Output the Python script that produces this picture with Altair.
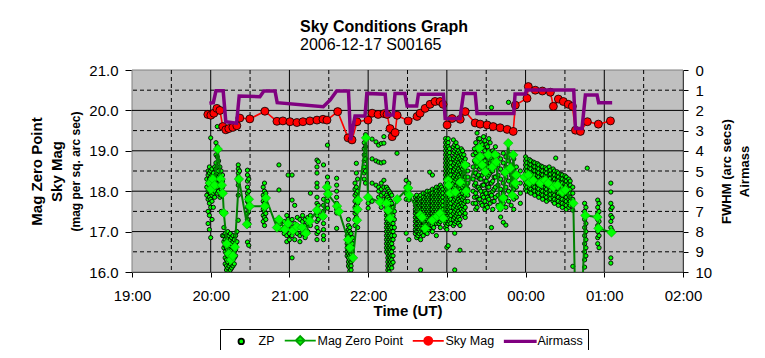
import altair as alt
import pandas as pd

FONT = "Liberation Sans"
BASE = pd.Timestamp("2006-12-17")


def when(s):
    """'HH:MM' (minutes may be fractional) -> timestamp; hours before noon are the next day."""
    h, m = s.split(":")
    h = int(h)
    if h < 12:
        h += 24
    return BASE + pd.Timedelta(hours=h) + pd.Timedelta(minutes=float(m))


# ---------------- data ----------------
# Airmass (right axis, 0 at top)
AIR_TIME = ["19:59", "20:02", "20:04", "20:09.5", "20:11.5", "20:19.7", "20:21.7", "20:37.5",
            "20:40.5", "20:49", "20:50.7", "21:25.8", "21:31", "21:36", "21:45", "21:46.7",
            "21:50", "21:57.6", "21:59", "22:13", "22:14.4", "22:19", "22:20.5", "22:28",
            "22:29.7", "22:37", "22:38.3", "22:57.4", "22:58.7", "23:10", "23:12.7", "23:21.6",
            "23:23", "23:51", "23:52", "00:00", "00:00.5", "00:36.7", "00:38", "00:43",
            "00:45.6", "00:54.5", "00:55.7", "01:06"]
AIR_VAL = [1.65, 1.62, 1.03, 1.03, 2.56, 2.64, 1.29, 1.32,
           1.04, 1.04, 1.62, 1.82, 1.49, 1.04, 1.04, 3.47,
           2.28, 2.28, 1.16, 1.2, 2.23, 2.23, 1.16, 1.16,
           1.78, 1.78, 1.2, 1.2, 2.4, 2.4, 1.16, 1.16,
           2.15, 2.15, 1.19, 1.19, 0.99, 0.99, 2.89, 2.89,
           1.24, 1.24, 1.62, 1.62]

# Sky Mag (left axis)
SKY_TIME = ["19:57.8", "20:00.1", "20:02.4", "20:04.7", "20:07", "20:09.2", "20:11.5", "20:13.8",
            "20:16.9", "20:19.9", "20:22.2", "20:29.8", "20:41.3", "20:50.5", "20:55", "21:00.4",
            "21:05.7", "21:10.3", "21:15.6", "21:21", "21:25.6", "21:28.6", "21:36.8", "21:44.7",
            "21:47.7", "21:51.5", "21:59.9", "22:03", "22:07.6", "22:12.2", "22:14.4", "22:16.7",
            "22:18.3", "22:20.6", "22:22.1", "22:30.5", "22:37.3", "22:39.6", "22:43.4", "22:47.2",
            "22:51", "22:54.8", "22:57.1", "23:00.2", "23:04", "23:10.2", "23:14", "23:21.6",
            "23:25.4", "23:30.7", "23:35.3", "23:40.6", "23:46", "23:50.6", "23:52.2", "00:01.1",
            "00:02.1", "00:07.4", "00:12.8", "00:18.9", "00:21.2", "00:25", "00:28.8", "00:32.6",
            "00:35.7", "00:38", "00:41.8", "00:47.1", "00:55.5", "01:04.7"]
SKY_MAG = [19.9, 19.88, 19.93, 20.05, 20.0, 19.6, 19.52, 19.55,
           19.58, 19.62, 19.81, 19.79, 19.98, 19.73, 19.74, 19.72,
           19.7, 19.72, 19.74, 19.76, 19.78, 19.76, 19.97, 19.32,
           19.27, 19.72, 19.76, 19.93, 19.9, 19.92, 19.9, 19.55,
           19.35, 19.45, 19.88, 19.74, 19.85, 19.93, 20.05, 20.15,
           20.22, 20.22, 20.15, 19.64, 19.8, 19.78, 19.97, 19.69,
           19.66, 19.64, 19.6, 19.57, 19.53, 19.48, 20.13, 20.3,
           20.59, 20.5, 20.48, 20.45, 20.1, 20.28, 20.22, 20.15,
           20.1, 19.51, 19.48, 19.72, 19.66, 19.74]

# Mag Zero Point (diamonds + line)
MZP_TIME = ["19:59.3", "20:00.1", "20:01.6", "20:03.1", "20:05.4", "20:07.7", "20:08.5", "20:09.2",
            "20:10", "20:12.3", "20:13.8", "20:15.3", "20:16.9", "20:18.4", "20:21.5", "20:27.6",
            "20:29.1", "20:29.8", "20:41.3", "20:42.1", "20:50.5", "20:52", "20:56.6", "20:58.9",
            "21:02.7", "21:05.7", "21:09.5", "21:12.6", "21:15.6", "21:21", "21:25.6", "21:28.6",
            "21:29.4", "21:36.3", "21:37.8", "21:44.7", "21:46.2", "21:48.5", "21:51.5", "21:51.9",
            "21:52.3", "21:58.4", "21:59.9", "22:09.1", "22:14", "22:15.2", "22:16.7", "22:22.1",
            "22:30.5", "22:31.3", "22:39.7", "22:41.2", "22:43.5", "22:48.8", "22:52.6", "22:54.9",
            "22:57.2", "23:01", "23:01.4", "23:02.5", "23:06.4", "23:10.2", "23:14", "23:14.7",
            "23:23.1", "23:24.7", "23:25.4", "23:26.9", "23:29.3", "23:31.5", "23:34.6", "23:36.9",
            "23:37.6", "23:40.7", "23:43", "23:44.5", "23:46.8", "23:48.3", "23:49.9", "23:50.6",
            "23:52.1", "23:52.9", "23:59", "00:02.1", "00:02.9", "00:05.9", "00:11.2", "00:15",
            "00:17.3", "00:21.2", "00:24.2", "00:28", "00:30.3", "00:36.4", "00:38", "00:42.5",
            "00:45.6", "00:54.8", "00:55.6", "01:05.5"]
MZP_MAG = [18.2, 18.05, 18.3, 18.15, 19.04, 18.3, 18.15, 17.95,
           17.46, 16.7, 16.45, 16.3, 16.4, 16.62, 18.3, 17.18,
           17.8, 17.63, 17.63, 17.83, 17.1, 17.3, 17.06, 17.2,
           17.03, 17.12, 17.1, 16.96, 17.26, 17.53, 17.38, 18.1,
           17.93, 17.63, 17.5, 16.8, 16.6, 16.35, 17.28, 17.55,
           17.78, 19.32, 17.85, 17.73, 17.7, 17.53, 17.33, 17.8,
           18.08, 17.9, 17.41, 17.35, 17.08, 17.28, 17.38, 17.45,
           17.33, 18.27, 18.15, 17.95, 17.98, 18.22, 18.65, 18.0,
           18.77, 19.07, 18.85, 18.65, 18.48, 18.9, 18.6, 18.9,
           18.72, 17.6, 17.83, 18.47, 19.19, 18.57, 17.9, 18.9,
           18.2, 18.4, 18.35, 18.4, 18.22, 18.27, 18.2, 18.27,
           18.2, 18.1, 18.15, 17.98, 18.03, 17.7, 15.0, 15.0,
           17.4, 17.36, 17.08, 16.98]

# ZP individual measurements: (time, [mags])
ZP_COLS = [
    ("19:57", [18.3, 18.1, 17.9]),
    ("19:58", [18.5, 18.4, 18.2, 18.0, 17.8, 17.5, 17.2]),
    ("19:59", [18.6, 18.45, 18.3, 18.15, 18.0, 17.85, 17.7, 17.4, 17.05]),
    ("20:00", [19.32, 18.5, 18.35, 18.2, 18.1, 17.95, 17.8, 17.6, 16.85]),
    ("20:01", [18.55, 18.4, 18.25, 18.05, 17.9, 17.75, 17.3]),
    ("20:02", [18.45, 18.3, 18.15, 17.95, 17.6]),
    ("20:03", [18.6, 18.2, 18.0, 17.85]),
    ("20:04", [19.2, 18.9, 18.7, 18.55, 18.4, 18.25]),
    ("20:05", [19.6, 19.1, 18.85, 18.6, 18.45, 18.3, 18.1, 17.95]),
    ("20:06", [18.75, 18.5, 18.35, 18.2, 18.0]),
    ("20:07", [18.6, 18.4, 18.2, 17.85]),
    ("20:08", [18.5, 18.35, 18.2, 18.05, 17.9, 17.5]),
    ("20:09", [18.4, 18.25, 18.1, 17.95, 17.45, 16.9]),
    ("20:10", [17.1, 16.9, 16.75, 16.6]),
    ("20:11", [16.95, 16.8, 16.65, 16.5, 16.35, 16.2]),
    ("20:12", [16.9, 16.75, 16.6, 16.45, 16.3, 16.15, 16.05]),
    ("20:13", [17.0, 16.85, 16.7, 16.55, 16.4, 16.25, 16.1]),
    ("20:14", [16.9, 16.75, 16.6, 16.45, 16.3, 16.15, 16.02]),
    ("20:15", [16.95, 16.8, 16.65, 16.5, 16.35, 16.2, 16.05]),
    ("20:16", [16.85, 16.7, 16.55, 16.4, 16.25, 16.1]),
    ("20:17", [16.9, 16.75, 16.6, 16.45, 16.3, 16.15]),
    ("20:18", [16.8, 16.65, 16.5, 16.35, 16.2]),
    ("20:19", [16.9, 16.7, 16.55, 16.4]),
    ("20:20", [17.0, 16.75]),
    ("20:21", [18.65, 18.55, 18.45, 18.35, 18.25, 18.15, 17.9, 17.28]),
    ("20:22", [18.5, 18.3]),
    ("20:28", [18.52, 18.4, 18.25, 18.1, 17.95, 17.85, 17.75, 17.6, 17.45, 17.3, 17.15, 16.74]),
    ("20:29", [18.3, 18.0, 17.7, 17.5, 17.2, 16.66]),
    ("20:40", [18.1, 17.9, 17.75, 17.55, 17.4, 17.25]),
    ("20:41", [18.2, 18.0, 17.85, 17.7, 17.5, 17.35, 17.15]),
    ("20:42", [17.95, 17.8, 17.6, 17.45, 17.3]),
    ("20:50", [17.28, 17.1]),
    ("20:52", [18.65, 18.03]),
    ("20:53", [17.2, 17.05]),
    ("20:56", [17.25, 17.1, 16.95]),
    ("20:58", [17.4, 17.15, 16.9, 16.75]),
    ("20:59", [18.4, 17.3, 17.05]),
    ("21:00", [17.2, 16.95, 16.8]),
    ("21:02", [18.4, 17.78, 17.3, 17.1, 16.9, 16.35]),
    ("21:04", [17.65, 17.2, 17.0, 16.8]),
    ("21:06", [17.35, 17.15, 16.95]),
    ("21:08", [17.3, 17.1, 16.9, 16.75]),
    ("21:10", [17.4, 17.25, 17.05, 16.95]),
    ("21:12", [17.3, 17.15, 16.85]),
    ("21:14", [17.35, 17.2, 17.0]),
    ("21:16", [17.95, 17.4, 17.15]),
    ("21:21", [18.77, 18.6, 18.45, 18.2, 18.1, 17.85, 17.7, 17.55, 17.4, 17.25, 17.1, 16.95, 16.8]),
    ("21:22", [18.73, 17.65, 17.3, 17.0]),
    ("21:26", [18.65, 17.8, 17.65, 17.5, 17.35, 17.2, 17.05, 16.9, 16.8]),
    ("21:29", [19.14, 18.35, 18.2, 18.05, 17.9, 17.75, 17.58]),
    ("21:36", [18.32, 18.15, 18.0, 17.85, 17.7, 17.55, 17.46, 17.08]),
    ("21:44", [17.0, 16.9, 16.8, 16.7, 16.6, 16.5, 16.4]),
    ("21:45", [17.3, 17.15, 17.05, 16.95, 16.85, 16.75, 16.65, 16.55, 16.45, 16.35, 16.25, 16.15]),
    ("21:46", [17.1, 17.0, 16.9, 16.8, 16.7, 16.6, 16.5, 16.4, 16.3, 16.2, 16.1, 16.02]),
    ("21:47", [16.95, 16.85, 16.75, 16.65, 16.55, 16.45, 16.35, 16.25, 16.15, 16.05]),
    ("21:48", [16.85, 16.7, 16.5, 16.3]),
    ("21:50", [18.2, 18.05, 17.9, 17.75, 17.6, 17.45, 17.3, 17.15]),
    ("21:51", [18.69, 18.45, 18.1, 17.95, 17.8, 17.65, 17.5, 17.35]),
    ("21:52", [18.3, 18.0, 17.7, 17.1]),
    ("21:57", [19.2, 19.05, 18.9, 18.75, 18.6, 18.45, 18.3]),
    ("21:58", [19.4, 19.1, 18.8, 18.5, 18.2]),
    ("22:00", [17.85, 17.7, 17.58]),
    ("22:03", [19.29, 18.8, 18.2, 17.75]),
    ("22:06", [19.22, 18.75, 18.15]),
    ("22:08", [19.14, 18.72, 18.1, 18.0, 17.85]),
    ("22:10", [19.18, 18.7, 18.2, 18.05, 17.9, 17.75, 17.6]),
    ("22:12", [19.35, 19.19, 18.72, 18.27, 18.1, 17.95, 17.8]),
    ("22:14", [18.1, 17.9, 17.8, 17.7, 17.6, 17.5, 17.4, 17.3, 17.2, 17.1, 17.0, 16.9, 16.8,
               16.7, 16.6, 16.5]),
    ("22:15", [18.05, 17.85, 17.75, 17.65, 17.55, 17.45, 17.35, 17.25, 17.15, 17.05, 16.95,
               16.85, 16.75, 16.65, 16.55, 16.45, 16.35, 16.25, 16.15, 16.05]),
    ("22:16", [18.0, 17.8, 17.7, 17.6, 17.5, 17.4, 17.3, 17.2, 17.1, 17.0, 16.9, 16.8, 16.7,
               16.6, 16.5, 16.4, 16.3, 16.2, 16.1, 16.0]),
    ("22:17", [17.95, 17.75, 17.65, 17.55, 17.45, 17.35, 17.25, 17.15, 17.05, 16.95, 16.85,
               16.75, 16.65, 16.55, 16.45, 16.35, 16.25, 16.15]),
    ("22:18", [17.9, 17.7, 17.6, 17.5, 17.4, 17.3, 17.2, 17.1, 17.0, 16.9, 16.8, 16.7, 16.6,
               16.5, 16.4, 16.3, 16.2, 16.1]),
    ("22:19", [17.6, 17.4, 17.2, 17.0, 16.8, 16.6, 16.4, 16.24]),
    ("22:20", [17.5, 17.3, 17.1, 16.9]),
    ("22:22", [18.94]),
    ("22:29", [18.27, 18.1, 17.95, 17.8, 16.96]),
    ("22:31", [18.2, 18.05, 17.9, 17.78, 16.8]),
    ("22:36", [17.85, 17.75, 17.65, 17.55, 17.45, 17.35, 17.25, 17.15, 17.05, 16.95]),
    ("22:37", [17.9, 17.8, 17.7, 17.6, 17.5, 17.4, 17.3, 17.2, 17.1, 17.0, 16.85]),
    ("22:38", [17.8, 17.7, 17.6, 17.5, 17.4, 17.3, 17.2, 17.1, 17.0, 16.9]),
    ("22:39", [17.85, 17.75, 17.65, 17.55, 17.45, 17.35, 17.25, 17.15, 17.05, 16.95]),
    ("22:40", [17.9, 17.8, 17.7, 17.6, 17.5, 17.4, 17.3, 17.2, 17.1, 17.0, 16.8, 16.05]),
    ("22:41", [17.75, 17.65, 17.55, 17.45, 17.35, 17.25, 17.15, 17.05, 16.95]),
    ("22:42", [17.95, 17.85, 17.75, 17.65, 17.55, 17.45, 17.35, 17.25, 17.15, 17.05, 16.9]),
    ("22:43", [17.8, 17.7, 17.6, 17.5, 17.4, 17.3, 17.2, 17.1, 17.0]),
    ("22:44", [17.95, 17.85, 17.75, 17.65, 17.55, 17.45, 17.35, 17.25, 17.15, 17.05]),
    ("22:45", [18.0, 17.9, 17.8, 17.7, 17.6, 17.5, 17.4, 17.3, 17.2, 17.1, 16.95]),
    ("22:46", [17.85, 17.75, 17.65, 17.55, 17.45, 17.35, 17.25, 17.15, 17.05]),
    ("22:47", [18.47, 18.0, 17.9, 17.8, 17.7, 17.6, 17.5, 17.4, 17.3, 17.2, 17.1]),
    ("22:48", [17.95, 17.85, 17.75, 17.65, 17.55, 17.45, 17.35, 17.25, 17.15]),
    ("22:49", [18.4, 18.05, 17.95, 17.85, 17.75, 17.65, 17.55, 17.45, 17.35, 17.25, 17.15, 17.0]),
    ("22:50", [17.9, 17.8, 17.7, 17.6, 17.5, 17.4, 17.3, 17.2, 17.1]),
    ("22:51", [18.05, 17.95, 17.85, 17.75, 17.65, 17.55, 17.45, 17.35, 17.25]),
    ("22:52", [18.1, 18.0, 17.9, 17.8, 17.7, 17.6, 17.5, 17.4, 17.3, 17.2, 16.9]),
    ("22:53", [17.95, 17.85, 17.75, 17.65, 17.55, 17.45, 17.35, 17.25]),
    ("22:54", [18.1, 18.0, 17.9, 17.8, 17.7, 17.6, 17.5, 17.4, 17.3, 17.2]),
    ("22:55", [18.15, 18.05, 17.95, 17.85, 17.75, 17.65, 17.55, 17.45, 17.35, 17.25, 17.1]),
    ("22:56", [18.1, 18.0, 17.9, 17.8, 17.7, 17.6, 17.5, 17.4, 17.3]),
    ("22:57", [18.05, 17.95, 17.85, 17.75, 17.65, 17.55, 17.45]),
    ("22:59", [19.3, 19.2, 19.1, 19.0, 18.9, 18.8, 18.7, 18.6, 18.5, 18.4, 18.3, 18.2, 18.1,
               18.0, 17.9, 17.8, 17.7, 17.6, 17.5, 17.4, 17.3, 17.2, 17.1]),
    ("23:00", [19.25, 19.15, 19.05, 18.95, 18.85, 18.75, 18.65, 18.55, 18.45, 18.35, 18.25,
               18.15, 18.05, 17.95, 17.85, 17.75, 17.65, 17.55, 17.45, 17.35, 17.25, 17.15,
               17.05, 16.61]),
    ("23:01", [19.3, 19.2, 19.1, 19.0, 18.9, 18.8, 18.7, 18.6, 18.5, 18.4, 18.3, 18.2, 18.1,
               18.0, 17.9, 17.8, 17.7, 17.6, 17.5, 17.4, 17.3, 17.2, 16.65]),
    ("23:02", [19.05, 18.95, 18.85, 18.75, 18.65, 18.55, 18.45, 18.35, 18.25, 18.15, 18.05,
               17.95, 17.85, 17.75, 17.65, 17.55, 17.45, 17.35, 17.25]),
    ("23:03", [18.8, 18.7, 18.6, 18.5, 18.4, 18.3, 18.2, 18.1, 18.0, 17.9, 17.8, 17.7, 17.6,
               17.5, 17.4, 17.3, 17.2]),
    ("23:05", [19.27, 19.1, 18.95, 18.8, 18.65, 18.5, 18.35, 18.2, 18.05, 17.9, 17.75, 17.6,
               17.45, 17.3, 17.15]),
    ("23:06", [19.15, 19.0, 18.85, 18.7, 18.55, 18.4, 18.25, 18.1, 17.95, 17.8, 17.65, 17.5,
               17.35, 17.2, 16.96, 16.05]),
    ("23:07", [19.2, 19.05, 18.9, 18.75, 18.6, 18.45, 18.3, 18.15, 18.0, 17.85, 17.7, 17.55,
               17.4, 17.25]),
    ("23:08", [19.1, 18.95, 18.8, 18.65, 18.5, 18.35, 18.2, 18.05, 17.9, 17.75, 17.6, 17.45,
               17.3]),
    ("23:09", [19.0, 18.85, 18.7, 18.55, 18.4, 18.25, 18.1, 17.95, 17.8, 17.65, 17.5, 17.35,
               17.2]),
    ("23:10", [18.95, 18.8, 18.65, 18.5, 18.35, 18.2, 18.05, 17.9, 17.75, 17.6, 17.45, 17.3,
               17.15, 16.54]),
    ("23:11", [19.05, 18.9, 18.75, 18.6, 18.45, 18.3, 18.15, 18.0, 17.85, 17.7, 17.55]),
    ("23:12", [19.0, 18.85, 18.7, 18.55, 18.4, 18.25, 18.1, 17.95, 17.8, 17.65, 17.5]),
    ("23:13", [18.9, 18.75, 18.6, 18.45, 18.3, 18.15, 18.0, 17.85, 17.7, 17.55, 17.4]),
    ("23:14", [18.8, 18.65, 18.5, 18.35, 18.2, 18.05, 17.9, 17.75, 17.6, 17.45, 17.35]),
    ("23:16", [18.65, 18.5, 18.35, 18.2, 18.05, 17.9, 17.75]),
    ("23:20", [18.9, 18.6, 18.3, 18.0, 17.7]),
    ("23:21", [19.05, 18.75, 18.45, 18.15, 17.85]),
    ("23:22", [19.2, 18.95, 18.7, 18.45, 18.2, 17.95, 17.7, 17.55]),
    ("23:23", [19.44, 19.1, 18.85, 18.6, 18.35, 18.1, 17.85, 17.6]),
    ("23:24", [19.3, 19.0, 18.7, 18.4, 18.1, 17.8]),
    ("23:25", [19.3, 19.05, 18.8, 18.55, 18.3, 18.05, 17.8]),
    ("23:26", [19.2, 18.9, 18.6, 18.3, 18.0, 17.7]),
    ("23:27", [19.15, 18.9, 18.65, 18.4, 18.15, 17.9, 17.65]),
    ("23:28", [19.35, 19.05, 18.75, 18.45, 18.15, 17.85]),
    ("23:29", [19.25, 19.0, 18.75, 18.5, 18.25, 18.0, 17.75, 17.55]),
    ("23:30", [19.15, 18.85, 18.55, 18.25, 17.95, 17.65]),
    ("23:31", [19.1, 18.85, 18.6, 18.35, 18.1, 17.85, 17.6]),
    ("23:32", [19.3, 19.0, 18.7, 18.4, 18.1, 17.8]),
    ("23:33", [19.2, 18.95, 18.7, 18.45, 18.2, 17.95, 17.7]),
    ("23:34", [20.07, 18.8, 18.5, 18.2, 17.9, 17.1]),
    ("23:35", [19.0, 18.75, 18.5, 18.25, 18.0, 17.75, 17.55]),
    ("23:36", [18.95, 18.65, 18.35, 18.05, 17.75]),
    ("23:37", [19.1, 18.85, 18.6, 18.35, 18.1, 17.85]),
    ("23:39", [18.9, 18.65, 18.4, 18.15, 17.9, 17.65]),
    ("23:41", [18.8, 18.55, 18.3, 18.05, 17.8, 17.55, 17.36]),
    ("23:43", [18.94, 18.7, 18.45, 18.2, 17.95, 17.7, 17.23]),
    ("23:45", [18.85, 18.6, 18.35, 18.1, 17.85, 17.6, 17.16]),
    ("23:47", [20.2, 18.75, 18.5, 18.25, 18.0, 17.75]),
    ("23:49", [18.9, 18.65, 18.4, 18.15, 17.9, 17.65]),
    ("23:51", [18.8, 18.55, 18.3, 18.05, 17.8, 17.55]),
    ("23:53", [18.6, 18.35, 18.1, 17.85]),
    ("23:56", [18.5, 18.2, 17.95, 17.7]),
    ("00:00", [18.85, 18.75, 18.65, 18.55, 18.45, 18.35, 18.25, 18.15, 18.05]),
    ("00:01", [18.8, 18.7, 18.6, 18.5, 18.4, 18.3, 18.2, 18.1, 18.0]),
    ("00:03", [18.78, 18.68, 18.58, 18.48, 18.38, 18.28, 18.18, 18.08, 17.98]),
    ("00:04", [18.75, 18.65, 18.55, 18.45, 18.35, 18.25, 18.15, 18.05, 17.95]),
    ("00:06", [18.72, 18.62, 18.52, 18.42, 18.32, 18.22, 18.12, 18.02]),
    ("00:07", [18.7, 18.6, 18.5, 18.4, 18.3, 18.2, 18.1, 18.0, 17.9]),
    ("00:09", [18.68, 18.58, 18.48, 18.38, 18.28, 18.18, 18.08, 17.98]),
    ("00:10", [18.65, 18.55, 18.45, 18.35, 18.25, 18.15, 18.05, 17.95, 17.85]),
    ("00:12", [18.62, 18.52, 18.42, 18.32, 18.22, 18.12, 18.02, 17.92]),
    ("00:13", [18.6, 18.5, 18.4, 18.3, 18.2, 18.1, 18.0, 17.9, 17.8]),
    ("00:15", [18.58, 18.48, 18.38, 18.28, 18.18, 18.08, 17.98, 17.88]),
    ("00:16", [18.55, 18.45, 18.35, 18.25, 18.15, 18.05, 17.95, 17.85, 17.75]),
    ("00:18", [18.6, 18.5, 18.4, 18.3, 18.2, 18.1, 18.0, 17.9, 17.8]),
    ("00:19", [18.52, 18.42, 18.32, 18.22, 18.12, 18.02, 17.92, 17.82]),
    ("00:21", [18.55, 18.45, 18.35, 18.25, 18.15, 18.05, 17.95, 17.85, 17.75]),
    ("00:22", [18.5, 18.4, 18.3, 18.2, 18.1, 18.0, 17.9, 17.8, 17.7]),
    ("00:23", [18.82]),
    ("00:24", [18.48, 18.38, 18.28, 18.18, 18.08, 17.98, 17.88, 17.78]),
    ("00:25", [18.45, 18.35, 18.25, 18.15, 18.05, 17.95, 17.85, 17.75, 17.65]),
    ("00:27", [18.42, 18.32, 18.22, 18.12, 18.02, 17.92, 17.82, 17.72]),
    ("00:28", [18.4, 18.3, 18.2, 18.1, 18.0, 17.9, 17.8, 17.7, 17.6]),
    ("00:30", [18.38, 18.28, 18.18, 18.08, 17.98, 17.88, 17.78, 17.68]),
    ("00:31", [18.35, 18.25, 18.15, 18.05, 17.95, 17.85, 17.75, 17.65, 17.55]),
    ("00:33", [18.3, 18.2, 18.1, 18.0, 17.9, 17.8, 17.7, 17.6]),
    ("00:34", [18.25, 18.15, 18.05, 17.95, 17.85, 17.75, 17.65]),
    ("00:36", [18.1, 17.95, 17.8, 17.65, 17.53, 16.14]),
    ("00:45", [17.7, 17.5, 17.3, 17.1, 16.9, 16.7, 16.5, 16.3, 16.12]),
    ("00:46", [17.6, 17.4, 17.2, 17.0, 16.8, 16.6, 16.4]),
    ("00:47", [18.57]),
    ("00:55", [17.78, 17.6, 17.45, 17.3, 17.15, 17.0, 16.85, 16.7]),
    ("00:56", [17.7, 17.5, 17.25, 17.05, 16.9, 16.6]),
    ("01:05", [18.2, 17.98, 17.7, 17.55, 17.4, 17.25, 17.1, 16.35, 16.22]),
    ("01:06", [17.6, 17.35, 17.03]),
]

X_RANGE = ["19:00", "02:00"]
Y_RANGE = [16, 21]
X_TICKS = ["19:00", "20:00", "21:00", "22:00", "23:00", "00:00", "01:00", "02:00"]
Y_TICKS = [16, 17, 18, 19, 20, 21]
R_TICKS = [0, 1, 2, 3, 4, 5, 6, 7, 8, 9, 10]
GRID_T_SOLID = ["20:00", "21:00", "22:00", "23:00", "00:00", "01:00"]
GRID_T_DASH = ["19:30", "20:30", "21:30", "22:30", "23:30", "00:30", "01:30"]
GRID_M_SOLID = [17, 18, 19, 20]
GRID_M_DASH = [16.5, 17.5, 18.5, 19.5, 20.5]

LEGEND_LABELS = ["ZP", "Mag Zero Point", "Sky Mag", "Airmass"]
LEGEND_FILL = ["#00ff00", "#00ff00", "#ff0000", "#800080"]
LEGEND_STROKE = ["#000000", "#00a000", "#ff0000", "#800080"]
LEGEND_SHAPE = [
    "M-3.1,0M-0.55,0A0.55,0.55,0,1,1,0.55,0A0.55,0.55,0,1,1,-0.55,0Z",
    "M-3.1,0H3.1M0,-0.9L0.9,0L0,0.9L-0.9,0Z",
    "M-3.1,0H3.1M-0.8,0A0.8,0.8,0,1,1,0.8,0A0.8,0.8,0,1,1,-0.8,0Z",
    "M-3.1,-0.15H3.1V0.15H-3.1Z",
]


def dt(s):
    ts = when(s)
    return alt.DateTime(year=ts.year, month=ts.month, date=ts.day,
                        hours=ts.hour, minutes=ts.minute)


# ---------------- frames ----------------
air_df = pd.DataFrame({"t": [when(s) for s in AIR_TIME], "a": AIR_VAL})
sky_df = pd.DataFrame({"t": [when(s) for s in SKY_TIME], "m": SKY_MAG})
mzp_df = pd.DataFrame({"t": [when(s) for s in MZP_TIME], "m": MZP_MAG})
zp_df = pd.DataFrame([{"t": when(ts), "m": v} for ts, vals in ZP_COLS for v in vals])
vsolid_df = pd.DataFrame({"t": [when(s) for s in GRID_T_SOLID]})
vdash_df = pd.DataFrame({"t": [when(s) for s in GRID_T_DASH]})
hsolid_df = pd.DataFrame({"m": GRID_M_SOLID})
hdash_df = pd.DataFrame({"m": GRID_M_DASH})
bg_df = pd.DataFrame({"t": [when(X_RANGE[0])], "t2": [when(X_RANGE[1])],
                      "m": [Y_RANGE[0]], "m2": [Y_RANGE[1]]})
legend_df = pd.DataFrame({"label": LEGEND_LABELS})


def yscale():
    return alt.Scale(domain=Y_RANGE, nice=False, zero=False)


xscale = alt.Scale(domain=[dt(s) for s in X_RANGE], nice=False)
rscale = alt.Scale(domain=[0, 10], reverse=True, nice=False, zero=False)

# the same x axis object is given to every layer that has x (a shared axis)
x_axis = alt.Axis(
    values=[dt(s) for s in X_TICKS], format="%H:%M",
    title="Time (UT)", titleFontSize=15, titlePadding=0,
    tickSize=5, labelPadding=11, grid=False, labelFlush=False, labelOverlap=False,
)
y_axis = alt.Axis(
    orient="left", values=Y_TICKS, format=".1f", tickSize=7, labelPadding=7,
    grid=False, labelFlush=False, labelOverlap=False,
    title="(mag per sq. arc sec)", titleFontSize=12, titleAngle=270,
    titleBaseline="middle", titleX=-57,
)
y_title_axis = alt.Axis(
    orient="left", labels=False, ticks=False, domain=False, grid=False,
    title=["Mag Zero Point", "Sky Mag"], titleFontSize=15, titleAngle=270,
    titleBaseline="middle", titleX=-96, titleLineHeight=20,
)
r_axis = alt.Axis(
    orient="right", values=R_TICKS, format="d", tickSize=5, labelPadding=7,
    grid=False, labelFlush=False, labelOverlap=False,
    title=["FWHM (arc secs)", "Airmass"], titleFontSize=13, titleAngle=270,
    titleBaseline="middle", titleX=43, titleLineHeight=18,
)

leg = alt.Legend(
    orient="none", legendX=88, legendY=259, direction="horizontal", columns=4,
    title=None, symbolSize=100, symbolOffset=10, labelOffset=11, columnPadding=6,
    padding=5, strokeColor="black", fillColor="white", labelFont=FONT,
    labelFontSize=12.5, labelColor="black", symbolStrokeWidth=1.8,
    symbolOpacity=1, labelLimit=0,
)

T = "t:T"


def X():
    return alt.X(T, scale=xscale, axis=x_axis, title="Time (UT)")


def Yhidden(field="m:Q"):
    return alt.Y(field, scale=yscale(), axis=None)


background = alt.Chart(bg_df).mark_rect(fill="#c0c0c0", stroke="#808080", strokeWidth=1).encode(
    x=X(), x2="t2:T", y=Yhidden(), y2="m2:Q"
)

hdash = alt.Chart(hdash_df).mark_rule(color="black", strokeDash=[4, 3], strokeWidth=1).encode(
    y=alt.Y("m:Q", scale=yscale(), axis=y_title_axis)
)
vdash = alt.Chart(vdash_df).mark_rule(color="black", strokeDash=[4, 3], strokeWidth=1).encode(
    x=X()
)
vsolid = alt.Chart(vsolid_df).mark_rule(color="black", strokeWidth=1).encode(
    x=X()
)
hsolid = alt.Chart(hsolid_df).mark_rule(color="black", strokeWidth=1).encode(
    y=alt.Y("m:Q", scale=yscale(), axis=y_axis)
)

zp = alt.Chart(zp_df).mark_point(
    shape="circle", filled=True, fill="#00ff00", stroke="black", strokeWidth=0.9,
    size=18, opacity=1, clip=True,
).encode(x=X(), y=Yhidden())

mzp_line = alt.Chart(mzp_df).mark_line(color="#008000", strokeWidth=2, clip=True).encode(
    x=X(), y=Yhidden()
)
mzp_pts = alt.Chart(mzp_df).mark_point(
    shape="diamond", filled=True, fill="#00ff00", stroke="#00b000", strokeWidth=0.6,
    size=90, opacity=1, clip=True,
).encode(x=X(), y=Yhidden())

sky_line = alt.Chart(sky_df).mark_line(color="#ff0000", strokeWidth=1.6, clip=True).encode(
    x=X(), y=Yhidden()
)
sky_pts = alt.Chart(sky_df).mark_point(
    shape="circle", filled=True, fill="#ff0000", stroke="black", strokeWidth=0.8,
    size=64, opacity=1, clip=True,
).encode(x=X(), y=Yhidden())

legend_layer = alt.Chart(legend_df).mark_point(filled=True).encode(
    fill=alt.Fill("label:N", scale=alt.Scale(domain=LEGEND_LABELS, range=LEGEND_FILL), legend=leg),
    stroke=alt.Stroke("label:N", scale=alt.Scale(domain=LEGEND_LABELS, range=LEGEND_STROKE), legend=leg),
    shape=alt.Shape("label:N", scale=alt.Scale(domain=LEGEND_LABELS, range=LEGEND_SHAPE), legend=leg),
).transform_filter("false")

air = alt.Chart(air_df).mark_line(color="#800080", strokeWidth=3.5, clip=True).encode(
    x=X(),
    y=alt.Y("a:Q", scale=rscale, axis=r_axis),
)

chart = alt.layer(
    background, hdash, vdash, vsolid, hsolid, zp, mzp_line, mzp_pts, sky_line, sky_pts,
    legend_layer, air
).resolve_scale(y="independent").properties(
    width=551,
    height=202,
    autosize=alt.AutoSizeParams(type="none"),
    padding={"left": 124, "top": 62, "right": 74, "bottom": 78},
    title=alt.TitleParams(
        text="Sky Conditions Graph", subtitle="2006-12-17 S00165",
        anchor="start", frame="group", dx=168, font=FONT, fontSize=16, fontWeight="bold",
        color="black", subtitleFont=FONT, subtitleFontSize=16, subtitleColor="black",
        offset=10, subtitlePadding=2,
    ),
).configure_view(
    fill="#c0c0c0", stroke="#808080", strokeWidth=1
).configure_axis(
    labelFont=FONT, titleFont=FONT, labelColor="black", titleColor="black",
    domainColor="black", tickColor="black", labelFontSize=15, titleFontWeight="bold",
)

chart.save("out.html", embed_options={"renderer": "svg", "actions": False})
